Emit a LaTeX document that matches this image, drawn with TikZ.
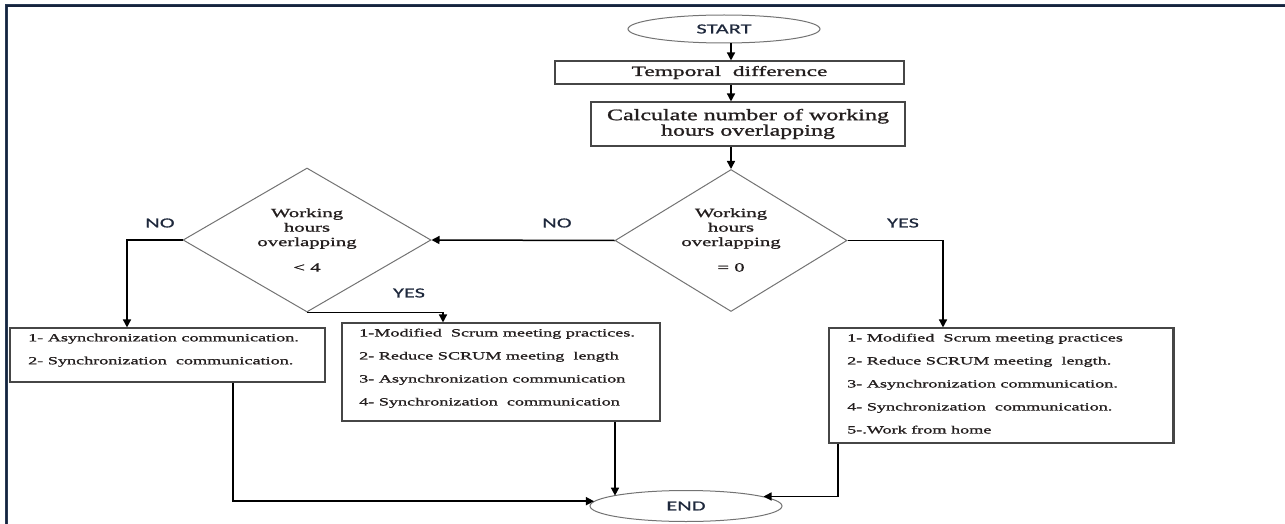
\documentclass[tikz,border=0pt]{standalone}
\usepackage{fontspec}
\setmainfont{Liberation Serif}
\newfontfamily\txtfont[FakeStretch=1.65,FakeBold=1.2]{Liberation Serif}
\newfontfamily\calcfont[FakeStretch=1.5,FakeBold=1.2]{Liberation Serif}
\newfontfamily\lblfont[FakeStretch=1.6,FakeBold=0.4]{Carlito}
\usetikzlibrary{shapes.geometric,arrows.meta}
\definecolor{txtc}{RGB}{35,30,30}
\definecolor{lblc}{RGB}{30,40,60}
\definecolor{boxc}{RGB}{70,70,70}
\definecolor{diac}{RGB}{115,115,115}
\definecolor{framec}{RGB}{40,58,85}
\definecolor{framed}{RGB}{22,36,60}
\begin{document}
\begin{tikzpicture}[x=1pt,y=-1pt,
  boxnode/.style={draw=boxc, line width=1.1pt, rectangle, inner sep=0pt},
  ovalnode/.style={draw=diac, line width=1pt, ellipse, inner sep=0pt, text=lblc,
    font=\lblfont\fontsize{14}{16}\selectfont},
  dianode/.style={draw=diac, line width=1pt, diamond, inner sep=0pt},
  dtext/.style={align=center, inner sep=0pt, text=txtc,
    font=\txtfont\fontsize{12.6}{14.5}\selectfont},
  ltext/.style={anchor=north west, align=left, inner sep=0pt, text=txtc,
    font=\txtfont\fontsize{11}{23}\selectfont},
  lbl/.style={inner sep=0pt, text=lblc, font=\lblfont\fontsize{14}{16}\selectfont},
  arr/.style={draw=black, line width=1.5pt, -{Triangle[length=8pt,width=8pt]}},
  lnk/.style={draw=black, line width=1.3pt}
]
\useasboundingbox (0,0) rectangle (1285,524);
% frame
\draw[framec, line width=3pt, line join=miter] (6.5,524) -- (6.5,6) -- (1285,6);
\draw[framed, line width=1.2pt, line join=miter] (6.5,524) -- (6.5,6) -- (1285,6);

\coordinate (spine) at (731,0);

\node[ovalnode, minimum width=192pt, minimum height=28pt] (start) at (724,29) {START};
\node[boxnode, minimum width=349pt, minimum height=23pt, text=txtc,
      font=\txtfont\fontsize{14.2}{16}\selectfont] (tmp) at (729.5,72.5) {Temporal\ \ difference};
\node[boxnode, minimum width=314pt, minimum height=44pt, align=center, text=txtc,
      font=\calcfont\fontsize{16}{15.5}\selectfont] (calc) at (748,124)
      {Calculate number of working\\hours overlapping};

\node[dianode, minimum width=232pt, minimum height=142pt] (d1) at (731,240.5) {};
\node[dtext] (d1t) at (731,240) {Working\\hours\\overlapping\\[11pt]= 0};
\node[dianode, minimum width=248pt, minimum height=144pt] (d2) at (307,240) {};
\node[dtext] (d2t) at (307,240) {Working\\hours\\overlapping\\[11pt]< 4};

\node[boxnode, minimum width=315pt, minimum height=54pt] (b1) at (167.5,355) {};
\node[ltext] (b1t) at (28,333.5) {1- Asynchronization communication.\\2- Synchronization\ \ communication.};
\node[boxnode, minimum width=318pt, minimum height=98pt] (b2) at (501,372) {};
\node[ltext] (b2t) at (359,328.5) {1-Modified\ \ Scrum meeting practices.\\2- Reduce SCRUM meeting\ \ length\\3- Asynchronization communication\\4- Synchronization\ \ communication};
\node[boxnode, minimum width=344pt, minimum height=115pt] (b3) at (1001,385.5) {};
\draw[boxc, line width=2pt] (b3.north east) -- (b3.south east);
\node[ltext] (b3t) at (847,333.5) {1- Modified\ \ Scrum meeting practices\\2- Reduce SCRUM meeting\ \ length.\\3- Asynchronization communication.\\4- Synchronization\ \ communication.\\5-.Work from home};

\node[ovalnode, minimum width=192pt, minimum height=31pt] (endn) at (686,506) {END};

\node[lbl] (noL) at (160,223) {NO};
\node[lbl] (noM) at (557,223) {NO};
\node[lbl] (yesR) at (903,223) {YES};
\node[lbl] (yesL) at (409,293) {YES};

\draw[arr] (start.south -| spine) -- (tmp.north -| spine);
\draw[arr] (tmp.south -| spine) -- (calc.north -| spine);
\draw[arr] (calc.south -| spine) -- (d1.north);
\draw[arr] (d1.west) -- (d2.east);
\draw[arr] (d1.east) -| ([xshift=-58pt]b3.north);
\draw[arr] (d2.west) -| ([xshift=-40.5pt]b1.north);
\draw[arr] (d2.south) -| ([xshift=-58pt]b2.north);
\draw[arr] ([xshift=65.5pt]b1.south) |- (endn.177);
\draw[arr] ([xshift=114pt]b2.south) -- ([xshift=114pt]b2.south |- endn.172);
\draw[arr] ([xshift=-163pt]b3.south) |- (endn.7);
\end{tikzpicture}
\end{document}
